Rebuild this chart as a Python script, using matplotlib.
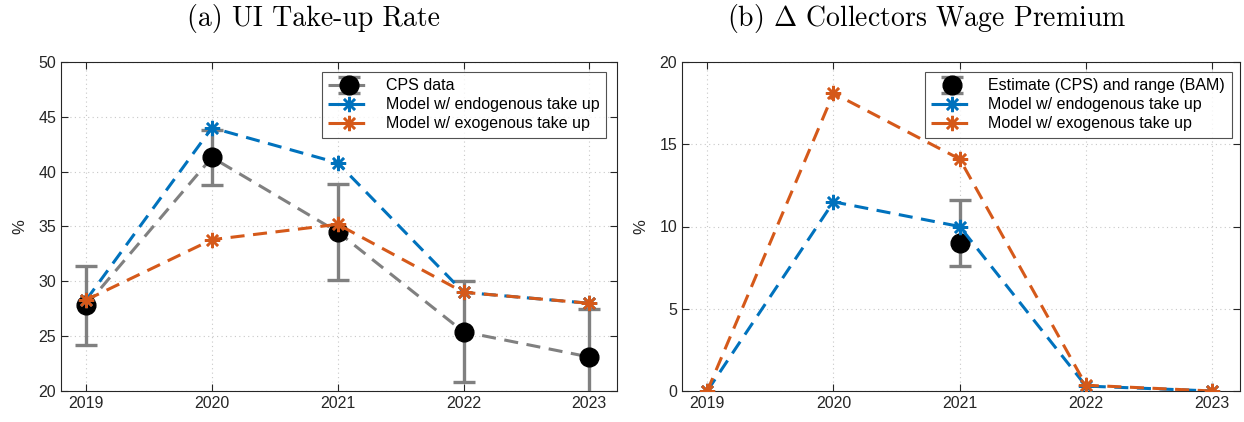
import matplotlib
matplotlib.use("Agg")
import matplotlib.pyplot as plt
import numpy as np

years = [2019, 2020, 2021, 2022, 2023]

# Panel (a): UI take-up rate (%)
cps_takeup = [27.8, 41.3, 34.5, 25.4, 23.1]
cps_err_low = [3.6, 2.5, 4.4, 4.6, 4.4]
cps_err_high = [3.6, 2.5, 4.4, 4.6, 4.4]
endo_takeup = [28.3, 44.0, 40.8, 29.0, 28.0]
exo_takeup = [28.3, 33.8, 35.2, 29.0, 28.0]

# Panel (b): change in collectors wage premium (%)
est_year = [2021]
est_premium = [9.0]
est_err_low = [1.4]
est_err_high = [2.6]
endo_premium = [0.0, 11.5, 10.0, 0.3, 0.0]
exo_premium = [0.0, 18.1, 14.1, 0.35, 0.0]

titles = ["(a) UI Take-up Rate", r"(b) $\Delta$ Collectors Wage Premium"]

BLUE = "#0072BD"
ORANGE = "#D5591A"
GRAY = "#808080"

plt.rcParams["font.family"] = ["Liberation Sans", "DejaVu Sans"]
plt.rcParams["mathtext.fontset"] = "cm"

fig = plt.figure(figsize=(12.44, 4.22), dpi=100)
ax1 = fig.add_axes([61 / 1244, 1 - 391 / 422, (617 - 61) / 1244, (391 - 62) / 422])
ax2 = fig.add_axes([682 / 1244, 1 - 391 / 422, (1240 - 682) / 1244, (391 - 62) / 422])

lw = 2.2
dash = (4.6, 2.8)
ASTER = (8, 2, 0)
ms_star = 11
mew_star = 1.8
ms_circ = 13.5

def style(ax, ylim, yticks):
    ax.set_xlim(2018.8, 2023.22)
    ax.set_ylim(*ylim)
    ax.set_xticks(years)
    ax.set_yticks(yticks)
    ax.tick_params(direction="in", top=True, right=True, labelsize=11.5,
                   length=5, width=0.8, colors="#262626", labelcolor="#262626")
    ax.grid(True, linestyle=(0, (1, 3)), color="#c8c8c8", linewidth=0.8)
    for s in ax.spines.values():
        s.set_color("#262626")
        s.set_linewidth(0.8)
    ax.set_ylabel("%", fontsize=12, color="#262626", labelpad=8)

def legend(ax, handles, anchor):
    leg = ax.legend(handles=handles, loc="upper right", bbox_to_anchor=anchor,
                    fontsize=11.5, frameon=True, fancybox=False,
                    edgecolor="#262626", handlelength=2.6, borderpad=0.4,
                    labelspacing=0.25, handletextpad=1.0, borderaxespad=0.0)
    leg.get_frame().set_linewidth(0.8)
    return leg

# Left panel
h_cps = ax1.errorbar(years, cps_takeup, yerr=[cps_err_low, cps_err_high],
                     color=GRAY, ecolor=GRAY, linewidth=lw, elinewidth=2.4,
                     capsize=8, capthick=2.4, dashes=dash,
                     marker="o", markersize=ms_circ, markerfacecolor="black",
                     markeredgecolor="black", label="CPS data", zorder=3)
h_cps[-1][0].set_linestyle("-")
h_endo, = ax1.plot(years, endo_takeup, color=BLUE, linewidth=lw, dashes=dash,
                   marker=ASTER, markersize=ms_star, markeredgewidth=mew_star,
                   markeredgecolor=BLUE, label="Model w/ endogenous take up", zorder=4)
h_exo, = ax1.plot(years, exo_takeup, color=ORANGE, linewidth=lw, dashes=dash,
                  marker=ASTER, markersize=ms_star, markeredgewidth=mew_star,
                  markeredgecolor=ORANGE, label="Model w/ exogenous take up", zorder=5)
style(ax1, (20, 50), [20, 25, 30, 35, 40, 45, 50])
legend(ax1, [h_cps, h_endo, h_exo], (0.98, 0.97))

# Right panel
h_est = ax2.errorbar(est_year, est_premium, yerr=[est_err_low, est_err_high],
                     color=GRAY, ecolor=GRAY, linestyle="none", elinewidth=2.4,
                     capsize=8, capthick=2.4, marker="o", markersize=ms_circ,
                     markerfacecolor="black", markeredgecolor="black",
                     label="Estimate (CPS) and range (BAM)", zorder=3)
h_endo2, = ax2.plot(years, endo_premium, color=BLUE, linewidth=lw, dashes=dash,
                    marker=ASTER, markersize=ms_star, markeredgewidth=mew_star,
                    markeredgecolor=BLUE, label="Model w/ endogenous take up", zorder=4)
h_exo2, = ax2.plot(years, exo_premium, color=ORANGE, linewidth=lw, dashes=dash,
                   marker=ASTER, markersize=ms_star, markeredgewidth=mew_star,
                   markeredgecolor=ORANGE, label="Model w/ exogenous take up", zorder=5)
style(ax2, (0, 20), [0, 5, 10, 15, 20])
legend(ax2, [h_est, h_endo2, h_exo2], (0.985, 0.97))

# Panel titles, centred over each half of the figure
fig.text(313 / 1244, 1 - 26 / 422, titles[0], ha="center", va="baseline",
         fontsize=20, fontname="cmr10", color="black")
fig.text(927 / 1244, 1 - 26 / 422, titles[1], ha="center", va="baseline",
         fontsize=20, fontname="cmr10", color="black")

fig.savefig("out.png", dpi=100, facecolor="white")
